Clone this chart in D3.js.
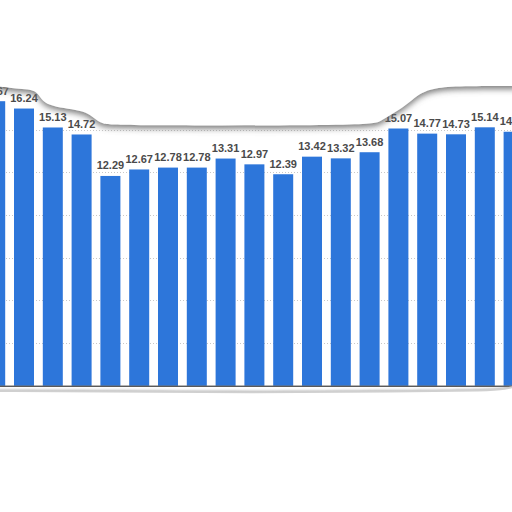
<!DOCTYPE html>
<html><head><meta charset="utf-8">
<script src="https://cdn.jsdelivr.net/npm/d3@7"></script>
<style>html,body{margin:0;padding:0;background:#fff;}svg{display:block;}</style>
</head><body>
<script>
const categories = ["C1","C2","C3","C4","C5","C6","C7","C8","C9","C10","C11","C12","C13","C14","C15","C16","C17","C18","C19"];
const values = [16.67,16.24,15.13,14.72,12.29,12.67,12.78,12.78,13.31,12.97,12.39,13.42,13.32,13.68,15.07,14.77,14.73,15.14,14.88];
const gridTicks = [2.5,5,7.5,10,12.5,15];

const W = 512, H = 512;
const svg = d3.select("body").append("svg").attr("width", W).attr("height", H);
const defs = svg.append("defs");
const f1 = defs.append("filter").attr("id","shTop").attr("x","-10%").attr("y","-10%").attr("width","120%").attr("height","150%");
f1.append("feDropShadow").attr("dx",0).attr("dy",3).attr("stdDeviation",3).attr("flood-color","#6a6a6a").attr("flood-opacity",0.9);
const f2 = defs.append("filter").attr("id","shBot").attr("x","-10%").attr("y","-20%").attr("width","120%").attr("height","140%");
f2.append("feDropShadow").attr("dx",0).attr("dy",-1).attr("stdDeviation",1.5).attr("flood-color","#888").attr("flood-opacity",0.8);

const x = d3.scaleBand().domain(categories).range([-19.2, 528]).paddingInner(0.3056).paddingOuter(0.1528);
const y = d3.scaleLinear().domain([0, 15]).range([385.7, 129.7]);

// grid
svg.append("g").selectAll("line").data(gridTicks).join("line")
  .attr("x1", 0).attr("x2", W)
  .attr("y1", d => Math.round(y(d)) + 0.5).attr("y2", d => Math.round(y(d)) + 0.5)
  .attr("stroke", "#c8c8c8").attr("stroke-dasharray", "1,2");

// bars
svg.append("g").selectAll("rect").data(values).join("rect")
  .attr("x", (d,i) => x(categories[i]))
  .attr("width", x.bandwidth())
  .attr("y", d => y(d))
  .attr("height", d => y(0) - y(d))
  .attr("fill", "#2d76da");

// baseline
svg.append("line").attr("x1",0).attr("x2",W).attr("y1",y(0)+0.5).attr("y2",y(0)+0.5)
  .attr("stroke","#111").attr("stroke-width",1);

// labels
svg.append("g").selectAll("text").data(values).join("text")
  .attr("x", (d,i) => x(categories[i]) + x.bandwidth()/2)
  .attr("y", d => y(d) - 6.5)
  .attr("text-anchor","middle")
  .attr("font-family","'Liberation Sans', Arial, sans-serif")
  .attr("font-weight","bold")
  .attr("font-size","11px")
  .attr("fill","#4a4a4a")
  .text(d => d.toFixed(2));

// torn paper top
const topEdge = [[-5,86],[10,88],[22,89],[34,90],[39,95],[44,103],[56,107],[72,109],[86,112],[94,118],[102,124],[116,125.5],[368,125.5],[380,122],[392,114],[402,108],[412,100],[421,93],[434,88],[460,86],[517,86]];
const line = d3.line().curve(d3.curveBasis);
const topPath = line(topEdge) + "L517,-10L-5,-10Z";
svg.append("path").attr("d", topPath).attr("fill","#fff").attr("filter","url(#shTop)");

// torn paper bottom
const botEdge = [[-5,391],[100,391.5],[250,392.5],[400,391.5],[490,390.5],[505,389],[517,386]];
const botPath = line(botEdge) + "L517,520L-5,520Z";
svg.append("path").attr("d", botPath).attr("fill","#fff").attr("filter","url(#shBot)");
svg.append("path").attr("d", line(botEdge)).attr("fill","none").attr("stroke","#d0d0d0").attr("stroke-width",2);
</script>
</body></html>
